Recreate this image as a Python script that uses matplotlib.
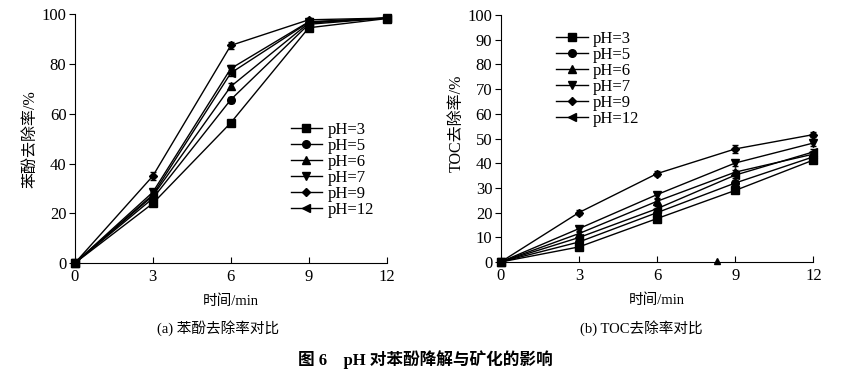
import numpy as np
import matplotlib
matplotlib.use('Agg')
import matplotlib.pyplot as plt
from matplotlib.lines import Line2D

plt.rcParams['font.family'] = ['Liberation Serif', 'Noto Sans CJK SC']
plt.rcParams['mathtext.fontset'] = 'stix'

t = [0, 3, 6, 9, 12]
labels = ['pH=3', 'pH=5', 'pH=6', 'pH=7', 'pH=9', 'pH=12']
markers = ['s', 'o', '^', 'v', 'D', '<']

# phenol removal /%
phenol = [
    [0, 24.0, 56.4, 94.6, 98.3],
    [0, 26.0, 65.7, 96.0, 98.5],
    [0, 27.0, 71.0, 96.5, 98.5],
    [0, 28.5, 78.2, 97.0, 98.5],
    [0, 35.0, 87.5, 97.8, 98.5],
    [0, 27.5, 76.4, 96.8, 98.5],
]
phenol_err = [
    [0, 1.0, 1.0, 1.0, 0.5],
    [0, 1.0, 1.2, 0.8, 0.5],
    [0, 1.0, 1.2, 0.8, 0.5],
    [0, 1.2, 1.5, 0.8, 0.5],
    [0, 1.5, 1.5, 0.8, 0.5],
    [0, 1.0, 1.2, 0.8, 0.5],
]

# TOC removal /%
toc = [
    [0, 6.1, 17.6, 29.0, 41.3],
    [0, 8.1, 20.0, 32.0, 42.6],
    [0, 11.5, 24.6, 36.4, 43.7],
    [0, 13.5, 27.3, 40.1, 48.2],
    [0, 20.0, 35.8, 45.8, 51.6],
    [0, 9.9, 21.6, 35.2, 44.6],
]
toc_err = [
    [0, 1.0, 1.0, 1.0, 1.0],
    [0, 1.0, 1.0, 1.0, 1.0],
    [0, 1.0, 1.0, 1.0, 1.0],
    [0, 1.2, 1.2, 1.2, 1.2],
    [0, 1.0, 1.0, 1.5, 1.0],
    [0, 1.0, 1.0, 1.0, 1.0],
]

# stray marker sitting on the TOC x axis
stray_t = [8.3]
stray_v = [0.6]

fig = plt.figure(figsize=(8.5, 3.77), dpi=100)
ax1 = fig.add_axes([0.088, 0.302, 0.367, 0.66])
ax2 = fig.add_axes([0.589, 0.305, 0.368, 0.655])

FS = 12

def msize(m):
    return 4.5 if m == 'D' else 5.5

def draw(ax, data, err, yticks):
    for i in range(len(labels)):
        ax.errorbar(t, data[i], yerr=err[i], color='black', lw=1.0,
                    marker=markers[i], ms=msize(markers[i]),
                    capsize=2, elinewidth=0.8, clip_on=False)
    ax.set_xlim(0, 12)
    ax.set_ylim(0, 100)
    ax.set_xticks(t)
    ax.set_yticks(yticks)
    for s in ['top', 'right']:
        ax.spines[s].set_visible(False)
    ax.tick_params(axis='x', direction='in', length=4, labelsize=FS, pad=4)
    ax.tick_params(axis='y', direction='out', length=4, labelsize=FS, pad=2)
    ax.set_xlabel('时间/min', fontsize=10.5, labelpad=7)
    handles = [Line2D([], [], color='black', lw=1.0, marker=markers[i],
                      ms=msize(markers[i])) for i in range(len(labels))]
    return handles

h1 = draw(ax1, phenol, phenol_err, range(0, 101, 20))
ax1.set_ylabel('苯酚去除率/%', fontsize=11.5)
ax1.yaxis.set_label_coords(-0.115, 0.5)
ax1.legend(h1, labels, loc='upper left', bbox_to_anchor=(0.665, 0.6), frameon=False,
           fontsize=FS, handlelength=1.9, labelspacing=0.0,
           handletextpad=0.3, borderpad=0)

h2 = draw(ax2, toc, toc_err, range(0, 101, 10))
ax2.plot(stray_t, stray_v, marker='^', ls='none', color='black', ms=5, clip_on=False)
ax2.set_ylabel('TOC去除率/%', fontsize=11.5)
ax2.yaxis.set_label_coords(-0.115, 0.56)
ax2.legend(h2, labels, loc='upper left', bbox_to_anchor=(0.15, 0.97), frameon=False,
           fontsize=FS, handlelength=1.9, labelspacing=0.0,
           handletextpad=0.3, borderpad=0)

fig.text(0.257, 0.13, '(a) 苯酚去除率对比', ha='center', va='center', fontsize=10.5)
fig.text(0.755, 0.13, '(b) TOC去除率对比', ha='center', va='center', fontsize=10.5)
fig.text(0.5, 0.045, '图 6    pH 对苯酚降解与矿化的影响', ha='center', va='center',
         fontsize=12, fontweight='bold')

fig.savefig('out.png', dpi=100)
